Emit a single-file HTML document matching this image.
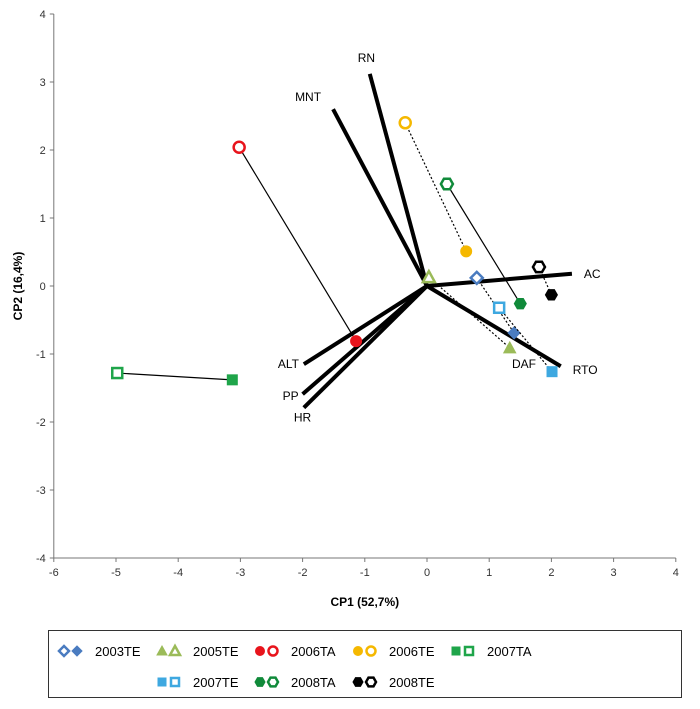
<!DOCTYPE html>
<html><head><meta charset="utf-8"><style>
body{margin:0;background:#fff;font-family:"Liberation Sans",sans-serif}
svg text{font-family:"Liberation Sans",sans-serif}
</style></head><body>
<svg id="c" width="700" height="704" xmlns="http://www.w3.org/2000/svg"></svg>
<script>
const xTicks=[-6,-5,-4,-3,-2,-1,0,1,2,3,4];
const yTicks=[-4,-3,-2,-1,0,1,2,3,4];
const vecNames=["RN","MNT","AC","RTO","ALT","PP","HR"];
const vecX=[-0.92,-1.51,2.33,2.15,-1.98,-2.0,-1.98];
const vecY=[3.12,2.6,0.18,-1.18,-1.15,-1.59,-1.79];
const series=["2003TE","2005TE","2006TA","2006TE","2007TA","2007TE","2008TA","2008TE"];
const openX=[0.8,0.03,-3.02,-0.35,-4.98,1.16,0.32,1.8];
const openY=[0.12,0.13,2.04,2.4,-1.28,-0.32,1.5,0.28];
const fillX=[1.4,1.33,-1.14,0.63,-3.13,2.01,1.5,2.0];
const fillY=[-0.69,-0.91,-0.81,0.51,-1.38,-1.26,-0.26,-0.13];
const colors=["#4a7cc0","#9bbb59","#e8141c","#f5b800","#1fa54a","#3ea8e0","#108a3a","#000"];
const shapes=["diamond","triangle","circle","circle","square","square","hex","hex"];
const dashed=[true,true,false,true,false,true,false,true];
const NS="http://www.w3.org/2000/svg";
const svg=document.getElementById('c');
const X=v=>427+v*62.2, Y=v=>286-v*68;
function el(t,a,p){const e=document.createElementNS(NS,t);for(const k in a)e.setAttribute(k,a[k]);(p||svg).appendChild(e);return e;}
function txt(s,x,y,a,p){const e=el('text',Object.assign({x:x,y:y,'font-size':12},a||{}),p);e.textContent=s;return e;}
let bx=el('line',{x1:X(-6),y1:Y(-4),x2:X(4),y2:Y(-4),stroke:'#777'});

let by=el('line',{x1:X(-6),y1:Y(-4),x2:X(-6),y2:Y(4),stroke:'#777'});

xTicks.forEach(t=>{el('line',{x1:X(t),y1:Y(-4),x2:X(t),y2:Y(-4)+4,stroke:'#777'});
 const e=txt(String(t),X(t),Y(-4)+18,{'text-anchor':'middle','font-size':11,fill:'#333'});
 });
yTicks.forEach(t=>{el('line',{x1:X(-6)-4,y1:Y(t),x2:X(-6),y2:Y(t),stroke:'#777'});
 const e=txt(String(t),X(-6)-8,Y(t)+4,{'text-anchor':'end','font-size':11,fill:'#333'});
 });
let xt=txt('CP1 (52,7%)',X(-1),606,{'text-anchor':'middle','font-weight':'bold'});

let yt=txt('CP2 (16,4%)',0,0,{'text-anchor':'middle','font-weight':'bold',transform:'translate(22,'+Y(0)+') rotate(-90)'});

const lblOff=[[-12,-12],[-38,-8],[12,4],[12,8],[-26,4],[-20,6],[-10,14]];
vecNames.forEach((n,i)=>{const l=el('line',{x1:X(0),y1:Y(0),x2:X(vecX[i]),y2:Y(vecY[i]),stroke:'#000','stroke-width':4});
 
 const t=txt(n,X(vecX[i])+lblOff[i][0],Y(vecY[i])+lblOff[i][1],{'font-size':12});
 });
let daf=txt('DAF',512,368,{'font-size':12});
function marker(shape,cx,cy,col,filled,p,r){r=r||6;const a=filled?{fill:col,stroke:col,'stroke-width':1}:{fill:'#fff',stroke:col,'stroke-width':2.5};
 let e;
 if(shape==='circle')e=el('circle',Object.assign({cx:cx,cy:cy,r:r-0.5},a),p);
 else if(shape==='square')e=el('rect',Object.assign({x:cx-r+1,y:cy-r+1,width:2*r-2,height:2*r-2},a),p);
 else if(shape==='diamond')e=el('polygon',Object.assign({points:[cx,cy-r,cx+r,cy,cx,cy+r,cx-r,cy].join(' ')},a),p);
 else if(shape==='triangle')e=el('polygon',Object.assign({points:[cx,cy-r,cx+r,cy+r-1,cx-r,cy+r-1].join(' ')},a),p);
 else{let pts=[];for(let k=0;k<6;k++){const an=Math.PI/3*k;pts.push(cx+r*Math.cos(an),cy+r*Math.sin(an));}e=el('polygon',Object.assign({points:pts.join(' ')},a),p);}
 return e;}
series.forEach((s,i)=>{const l=el('line',{x1:X(openX[i]),y1:Y(openY[i]),x2:X(fillX[i]),y2:Y(fillY[i]),stroke:'#000','stroke-width':1.2,'stroke-dasharray':dashed[i]?'2,2':'none'});
 
 const o=marker(shapes[i],X(openX[i]),Y(openY[i]),colors[i],false);
 
 const f=marker(shapes[i],X(fillX[i]),Y(fillY[i]),colors[i],true);
 });
const lg=el('g',{});
el('rect',{x:48.5,y:630.5,width:633,height:67,fill:'#fff',stroke:'#333','stroke-width':1},lg);
series.forEach((s,i)=>{const row=i<5?0:1,col=i<5?i:i-4;const lx=60+col*98,ly=row?682:651;
 const g=el('g',{},lg);
 const firstFilled=i!==0;
 marker(shapes[i],lx+4,ly,colors[i],firstFilled,g,5);
 marker(shapes[i],lx+17,ly,colors[i],!firstFilled,g,5);
 txt(s,lx+35,ly+5,{'font-size':13},g);});
</script>
</body></html>
